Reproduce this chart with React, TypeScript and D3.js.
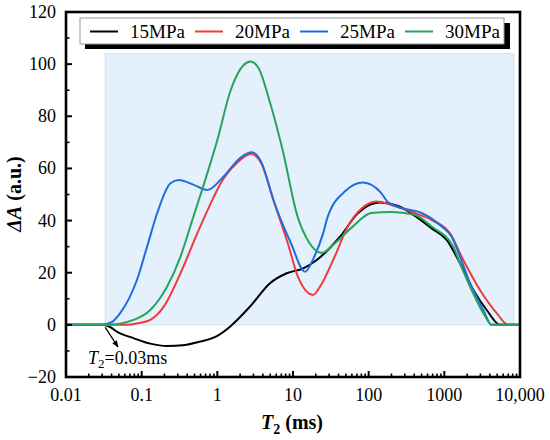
import React from "react";
import * as d3 from "d3";

const t15 = [0.01, 0.03, 0.04, 0.047, 0.078, 0.13, 0.217, 0.35, 0.6, 1.0, 1.47, 2.7, 4.97, 8.26, 13.7, 20.6, 41.8, 72, 140, 250, 400, 680, 1074, 1610, 2415, 3630, 5440, 10000];
const a15 = [0, 0, -1.2, -2.6, -5.1, -7.2, -8.1, -7.8, -6.4, -4.2, -0.7, 7, 16, 19.8, 21.7, 24.9, 33.8, 42.8, 46.9, 45.5, 42, 37, 32.6, 23.6, 13.4, 5.7, 0, 0];

const t20 = [0.01, 0.06, 0.09, 0.13, 0.196, 0.326, 0.543, 0.902, 1.107, 1.8, 2.8, 3.8, 5.65, 8.6, 11.6, 18.5, 22.8, 34, 53, 80, 126, 200, 404, 680, 1189, 1780, 2960, 4920, 7000, 10000];
const a20 = [0, 0, 0.6, 1.9, 7, 19.8, 35.1, 49.2, 54.3, 62, 65.5, 62, 47, 31, 18.5, 11.5, 14.7, 24.9, 37.7, 44.5, 47.3, 46, 42.9, 40.2, 35.1, 24.9, 13.4, 4.5, 0, 0];

const t25 = [0.01, 0.03, 0.04, 0.052, 0.0866, 0.118, 0.16, 0.24, 0.31, 0.48, 0.738, 1.22, 2.0, 2.86, 3.8, 5.5, 9.4, 14.4, 19, 25, 28.8, 50, 84, 147, 180, 272, 500, 923, 1251, 1610, 2185, 3275, 4230, 10000];
const a25 = [0, 0, 1.0, 4.5, 17.2, 30, 42.8, 54.3, 55.6, 53.8, 51.7, 57, 64, 66.2, 62.5, 47.9, 31.3, 20.4, 26, 35.1, 41.5, 51.5, 54.6, 50.5, 47, 44.8, 42.9, 37.7, 33.8, 26.2, 16, 5.7, 0, 0];

const t30 = [0.01, 0.035, 0.078, 0.13, 0.217, 0.326, 0.467, 0.665, 1.0, 1.5, 2.2, 2.77, 3.5, 5, 7.3, 11.5, 16, 24, 35, 59, 108.6, 200, 404, 680, 1313, 1610, 2185, 3275, 4230, 10000];
const a30 = [0, 0, 1.9, 5.7, 14.7, 26.2, 40.2, 54, 70.9, 90, 99.5, 101, 98.5, 85, 67, 41.5, 32, 27.6, 31, 37.2, 42.9, 43.3, 42.2, 37.7, 30, 23.6, 14.7, 4.5, 0, 0];

const seriesNames = ["15MPa", "20MPa", "25MPa", "30MPa"];
const seriesColors = ["#000000", "#f03a3a", "#1f6ddb", "#2aa35a"];
const seriesT = [t15, t20, t25, t30];
const seriesA = [a15, a20, a25, a30];

const xTickValues = [0.01, 0.1, 1, 10, 100, 1000, 10000];
const xTickLabels = ["0.01", "0.1", "1", "10", "100", "1000", "10,000"];
const yTickValues = [-20, 0, 20, 40, 60, 80, 100, 120];

const shadeT = [0.033, 8300];
const shadeA = [0, 104];

const FONT = "'Liberation Serif', 'Times New Roman', serif";

export default function App() {
  const W = 550, H = 440;
  const L = 66, R = 520, T = 12, B = 377;
  const x = d3.scaleLog().domain([0.01, 10000]).range([L, R]);
  const y = d3.scaleLinear().domain([-20, 120]).range([B, T]);

  const line = d3
    .line<[number, number]>()
    .x((d) => x(d[0]))
    .y((d) => y(d[1]))
    .curve(d3.curveMonotoneX);

  const minorX: number[] = [];
  for (let e = -2; e < 4; e++) {
    for (let k = 2; k <= 9; k++) minorX.push(k * Math.pow(10, e));
  }
  const minorY: number[] = [];
  for (let v = -10; v < 120; v += 20) minorY.push(v);

  const legendLineX = [90, 195, 300, 405];

  return (
    <svg width={W} height={H} style={{ display: "block", position: "absolute", left: 0, top: 0 }} fontFamily={FONT}>
      <rect x={0} y={0} width={W} height={H} fill="#fff" />
      {/* shaded region */}
      <rect
        x={x(shadeT[0])}
        y={y(shadeA[1])}
        width={x(shadeT[1]) - x(shadeT[0])}
        height={y(shadeA[0]) - y(shadeA[1])}
        fill="#e4f1fc"
        stroke="#cde1f3"
        strokeWidth={1}
      />
      {/* series */}
      {seriesT.map((ts, i) => {
        const pts = ts.map((t, j) => [t, seriesA[i][j]] as [number, number]);
        return (
          <path key={i} d={line(pts) || ""} fill="none" stroke={seriesColors[i]} strokeWidth={2} />
        );
      })}
      {/* frame */}
      <rect x={L} y={T} width={R - L} height={B - T} fill="none" stroke="#000" strokeWidth={2.6} />
      {/* y ticks */}
      {yTickValues.map((v) => (
        <g key={"y" + v}>
          <line x1={L} x2={L + 6} y1={y(v)} y2={y(v)} stroke="#000" strokeWidth={2} />
          <text x={56} y={y(v) + 6} textAnchor="end" fontSize={18}>
            {v < 0 ? "\u2212" + Math.abs(v) : v}
          </text>
        </g>
      ))}
      {minorY.map((v) => (
        <line key={"ym" + v} x1={L} x2={L + 3.5} y1={y(v)} y2={y(v)} stroke="#000" strokeWidth={1.6} />
      ))}
      {/* x ticks */}
      {xTickValues.map((v, i) => (
        <g key={"x" + v}>
          <line x1={x(v)} x2={x(v)} y1={B} y2={B - 6} stroke="#000" strokeWidth={2} />
          <text x={x(v)} y={401} textAnchor="middle" fontSize={18}>
            {xTickLabels[i]}
          </text>
        </g>
      ))}
      {minorX.map((v) => (
        <line key={"xm" + v} x1={x(v)} x2={x(v)} y1={B} y2={B - 3.5} stroke="#000" strokeWidth={1.6} />
      ))}
      {/* axis titles */}
      <text x={292} y={429} textAnchor="middle" fontSize={20} fontWeight="bold">
        <tspan fontStyle="italic">T</tspan>
        <tspan fontSize={14} dy={5}>2</tspan>
        <tspan dy={-5}> (ms)</tspan>
      </text>
      <text transform="translate(21,194) rotate(-90)" textAnchor="middle" fontSize={20} fontWeight="bold">
        <tspan fontStyle="italic">ΔA</tspan>
        <tspan> (a.u.)</tspan>
      </text>
      {/* legend */}
      <rect x={85} y={23} width={425} height={26} fill="#000" />
      <rect x={80} y={18} width={424} height={26} fill="#fff" stroke="#999" strokeWidth={1} />
      {seriesNames.map((n, i) => (
        <g key={n}>
          <line x1={legendLineX[i]} x2={legendLineX[i] + 28} y1={31.5} y2={31.5} stroke={seriesColors[i]} strokeWidth={2} />
          <text x={legendLineX[i] + 40} y={38} fontSize={19}>
            {n}
          </text>
        </g>
      ))}
      {/* annotation */}
      <defs>
        <marker id="arr" viewBox="0 0 10 10" refX={9} refY={5} markerWidth={7} markerHeight={7} orient="auto" markerUnits="userSpaceOnUse">
          <path d="M0,1 L10,5 L0,9 z" fill="#000" />
        </marker>
      </defs>
      <line x1={x(0.033)} y1={y(-1)} x2={118} y2={347} stroke="#000" strokeWidth={1.3} markerEnd="url(#arr)" />
      <text x={88} y={364} fontSize={18}>
        <tspan fontStyle="italic">T</tspan>
        <tspan fontSize={13} dy={4}>2</tspan>
        <tspan dy={-4}>=0.03ms</tspan>
      </text>
    </svg>
  );
}
